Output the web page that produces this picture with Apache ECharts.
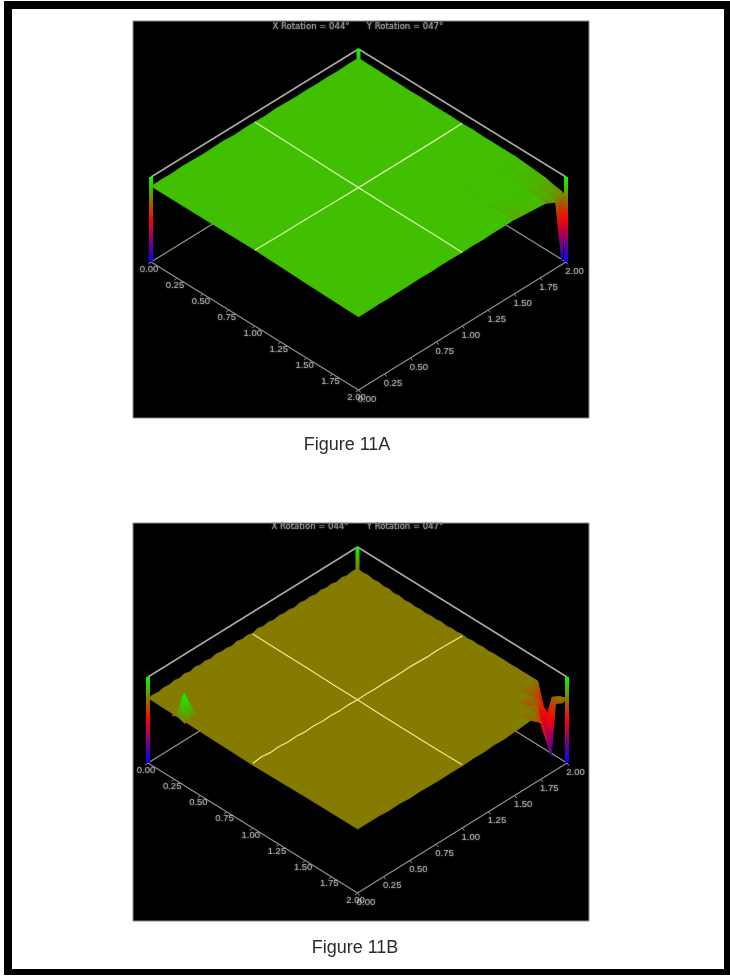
<!DOCTYPE html>
<html>
<head>
<meta charset="utf-8">
<title>Figure 11</title>
<style>
  html, body { margin: 0; background: #fff; }
  #frame { position: absolute; left: 4px; top: 1px; width: 712px; height: 960px; border-style: solid; border-color: #000; border-width: 8px 6px 6px 8px; }
  #chart { position: absolute; left: 0; top: 0; width: 730px; height: 977px; }
</style>
</head>
<body>
<div id="frame"></div>
<div id="chart"></div>
<script src="https://cdn.jsdelivr.net/npm/echarts@6/dist/echarts.min.js"></script>
<script>
// axis ticks
const tickValues = [0, 0.25, 0.5, 0.75, 1, 1.25, 1.5, 1.75, 2]
const tickLabels = ['0.00', '0.25', '0.50', '0.75', '1.00', '1.25', '1.50', '1.75', '2.00']
const rotationLabels = ['X Rotation = 044°', 'Y Rotation = 047°']

// colour ramp of the height
const rampStops = [0, 0.25, 0.5, 0.75, 1]
const rampColors = [[0, 0, 255], [128, 0, 128], [255, 0, 0], [128, 128, 0], [0, 255, 0]]

// posts at the corners [u, v]
const postCorners = [[0, 2], [0, 0], [2, 2]]

// Figure 11A, heights read along the surface edges
const levelA = 0.875
const backLeftA = [.89, .895, .89, .9, .895, .89, .895, .9, .89, .895, .895, .89, .9, .895, .89, .895, .89, .895, .89, .895, .895]
const backRightA = [.895, .89, .89, .885, .885, .88, .885, .88, .88, .88, .875, .88, .875, .875, .875, .875]
const frontRightA = [.875, .87, .87, .865, .87, .865, .87, .87, .865, .87, .865, .865, .86, .865, .86, .86]
const frontLeftA = [.86, .875, .895, .89, .89]
const crossUA = [.895, .89, .885, .88, .875, .87, .87, .87, .865]
const crossVA = [.89, .885, .885, .88, .875, .875, .875, .875, .88]
const cornerUA = [1.5, 1.8, 1.9, 1.96, 2]
const cornerVA = [1.5, 1.8, 1.9, 1.96, 2]
const cornerZA = [
  [.875, .875, .875, .875, .875],
  [.875, .875, .86, .85, .84],
  [.875, .86, .82, .8, .81],
  [.875, .84, .8, .78, .8],
  [.875, .84, .78, .04, .78]
]

// Figure 11B
const levelB = 0.74
const backLeftB = [.755, .76, .75, .765, .755, .77, .76, .775, .76, .78, .765, .775, .76, .78, .765, .77, .755, .775, .76, .77,
  .755, .775, .76, .77, .755, .77, .76, .765, .75, .77, .755, .765, .75, .765, .75, .76, .745, .76, .745, .755, .75]
const backRightB = [.75, .74, .75, .735, .745, .73, .74, .725, .735, .72, .73, .72, .73, .72, .73, .725, .735, .725, .735, .73,
  .74, .73, .74, .735, .745, .735, .745, .74, .745, .74, .74]
const frontRightB = [.74, .73, .735, .725, .73, .72, .725, .72, .725, .73, .725, .735, .73, .74, .74, .74]
const frontLeftB = [.745, .74, .73, .74, .755]
const crossUB = [.745, .74, .74, .735, .735, .73, .73, .73, .735]
const crossVB = [.75, .765, .75, .758, .745, .752, .74, .748, .738, .745, .735, .742, .735, .74, .735, .738, .735, .735, .74, .735, .73, .735, .73, .725, .72]
const cornerUB = [1.5, 1.65, 1.72, 1.8, 1.86, 1.93, 2]
const cornerVB = [1.5, 1.65, 1.75, 1.85, 1.92, 1.96, 2]
const cornerZB = [
  [.74, .74, .74, .74, .74, .74, .74],
  [.74, .74, .74, .74, .74, .74, .74],
  [.74, .74, .74, .74, .74, .74, .74],
  [.74, .74, .74, .74, .64, .56, .37],
  [.74, .74, .74, .66, .3, .48, .66],
  [.74, .74, .74, .46, .12, .67, .72],
  [.74, .76, .66, .2, null, .73, .75]
]
const bumpUB = [.24, .295, .32, .36]
const bumpVB = [-.01, .05, .11]
const bumpZB = [
  [.74, .76, .74],
  [.78, .99, .78],
  [.76, .95, .76],
  [.74, .76, .74]
]

const panels = [
  {
    rect: { left: 133, top: 21, width: 456, height: 397 },
    origin: [151, 262], unit: [103.75, 64], zUnit: 85 / 64,
    level: levelA, backLeft: backLeftA, backRight: backRightA, frontRight: frontRightA, frontLeft: frontLeftA,
    crossU: crossUA, crossV: crossVA, crossColor: '#dcefb4',
    meshes: [{ u: cornerUA, v: cornerVA, z: cornerZA }]
  },
  {
    rect: { left: 133, top: 523, width: 456, height: 398 },
    origin: [148, 763], unit: [104.75, 65], zUnit: 86 / 65,
    level: levelB, backLeft: backLeftB, backRight: backRightB, frontRight: frontRightB, frontLeft: frontLeftB,
    crossU: crossUB, crossV: crossVB, crossColor: '#f2e88e',
    meshes: [{ u: cornerUB, v: cornerVB, z: cornerZB }, { u: bumpUB, v: bumpVB, z: bumpZB }]
  }
]

function rampColor(z) {
  let i = 0
  while (i < rampStops.length - 2 && z > rampStops[i + 1]) i++
  const t = Math.min(1, Math.max(0, (z - rampStops[i]) / (rampStops[i + 1] - rampStops[i])))
  const a = rampColors[i], b = rampColors[i + 1]
  return 'rgb(' + a.map((c, k) => Math.round(c + (b[k] - c) * t)).join(',') + ')'
}

function heightFill(yTop, yBottom, zTop, zBottom) {
  if (Math.abs(zTop - zBottom) < 0.005) return rampColor(zTop)
  const stops = []
  for (let k = 0; k <= 6; k++) {
    stops.push({ offset: k / 6, color: rampColor(zTop + (zBottom - zTop) * k / 6) })
  }
  return new echarts.graphic.LinearGradient(0, yTop, 0, yBottom, stops, true)
}

function buildSeries(p, idx) {
  const project = (u, v, z) => [u + v, u - v - z * p.zUnit]
  const axisRef = { xAxisIndex: idx, yAxisIndex: idx }

  const lineSeries = (points, color, width, z) => ({
    type: 'line', ...axisRef, z: z, silent: true, showSymbol: false, animation: false,
    lineStyle: { color: color, width: width },
    data: points.map(q => project(q[0], q[1], q[2]))
  })

  const step = (n, i, span) => span * i / (n - 1)

  // surface outline without the right corner, the corner is its own mesh
  const outline = []
  p.backLeft.forEach((z, i, a) => outline.push([0, step(a.length, i, 2), z]))
  p.backRight.forEach((z, i, a) => outline.push([step(a.length, i, 1.5), 2, z]))
  outline.push([1.5, 1.5, p.level])
  p.frontRight.forEach((z, i, a) => outline.push([2, 1.5 - step(a.length, i, 1.5), z]))
  p.frontLeft.forEach((z, i, a) => outline.push([2 - step(a.length, i, 2), 0, z]))

  const surface = {
    type: 'custom', ...axisRef, z: 4, silent: true, animation: false,
    data: [[0, 0]],
    renderItem: (params, api) => ({
      type: 'polygon',
      shape: { points: outline.map(q => api.coord(project(q[0], q[1], q[2]))) },
      style: { fill: rampColor(p.level), stroke: rampColor(p.level), lineWidth: 0.5 }
    })
  }

  // corner cells, painted from back to front; a null height leaves a hole
  const cells = []
  p.meshes.forEach(m => {
    for (let i = 0; i < m.u.length - 1; i++) {
      for (let j = 0; j < m.v.length - 1; j++) {
        const cell = [
          [m.u[i], m.v[j], m.z[i][j]],
          [m.u[i], m.v[j + 1], m.z[i][j + 1]],
          [m.u[i + 1], m.v[j + 1], m.z[i + 1][j + 1]],
          [m.u[i + 1], m.v[j], m.z[i + 1][j]]
        ]
        if (cell.every(q => q[2] !== null)) cells.push(cell)
      }
    }
  })
  cells.sort((a, b) => (a[0][0] + a[2][0] - a[0][1] - a[2][1]) - (b[0][0] + b[2][0] - b[0][1] - b[2][1]))

  const mesh = {
    type: 'custom', ...axisRef, z: 5, silent: true, animation: false,
    data: cells.map(() => [0, 0]),
    renderItem: (params, api) => {
      const cell = cells[params.dataIndex]
      const pts = cell.map(q => api.coord(project(q[0], q[1], q[2])))
      const ys = pts.map(q => q[1])
      const zs = cell.map(q => q[2])
      const fill = heightFill(Math.min(...ys), Math.max(...ys), Math.max(...zs), Math.min(...zs))
      return {
        type: 'polygon',
        shape: { points: pts },
        style: { fill: fill, stroke: fill, lineWidth: 1 }
      }
    }
  }

  const posts = {
    type: 'custom', ...axisRef, z: 3, silent: true, animation: false,
    data: postCorners,
    renderItem: (params, api) => {
      const c = postCorners[params.dataIndex]
      const a = api.coord(project(c[0], c[1], 1))
      const b = api.coord(project(c[0], c[1], 0))
      return {
        type: 'line',
        shape: { x1: a[0], y1: a[1], x2: b[0], y2: b[1] },
        style: { stroke: heightFill(a[1], b[1], 1, 0), lineWidth: 4 }
      }
    }
  }

  const tickMark = (axisPt, dx, dy) => ({
    type: 'custom', ...axisRef, z: 2, silent: true, animation: false,
    data: tickValues.map(t => [t]),
    renderItem: (params, api) => {
      const q = axisPt(tickValues[params.dataIndex])
      const a = api.coord(project(q[0], q[1], 0))
      return {
        type: 'line',
        shape: { x1: a[0], y1: a[1], x2: a[0] + dx, y2: a[1] + dy },
        style: { stroke: '#9a9a9a', lineWidth: 1 }
      }
    }
  })

  const tickText = (axisPt, offset) => ({
    type: 'scatter', ...axisRef, z: 6, silent: true, animation: false, symbolSize: 0,
    data: tickValues.map((t, i) => {
      const q = axisPt(t)
      return { value: project(q[0], q[1], 0), name: tickLabels[i] }
    }),
    label: {
      show: true, position: 'inside', offset: offset, formatter: '{b}',
      fontFamily: 'Liberation Sans', fontSize: 9.5, color: '#c4c4c4',
      textShadowColor: 'rgba(200,200,200,0.7)', textShadowBlur: 2
    }
  })

  const uAxisPt = t => [t, 0]
  const vAxisPt = t => [2, t]

  return [
    lineSeries([[0, 0, 1], [0, 2, 1], [2, 2, 1]], '#aca6a2', 1.6, 2),
    lineSeries([[0, 0, 0], [0, 2, 0], [2, 2, 0]], '#8f8f8f', 1.4, 2),
    lineSeries([[0, 0, 0], [2, 0, 0], [2, 2, 0]], '#8a8a8a', 1.4, 2),
    tickMark(uAxisPt, -2.5, 2),
    tickMark(vAxisPt, 2, 2.5),
    tickText(uAxisPt, [-2, 7]),
    tickText(vAxisPt, [8.5, 9]),
    posts,
    surface,
    mesh,
    lineSeries(p.crossU.map((z, i, a) => [step(a.length, i, 2), 1, z]), p.crossColor, 1.2, 6),
    lineSeries(p.crossV.map((z, i, a) => [1, step(a.length, i, 2), z]), p.crossColor, 1.2, 6)
  ]
}

const headerText = (text, x, y) => ({
  text: text, left: x, top: y, textAlign: 'center', textVerticalAlign: 'middle', padding: 0,
  textStyle: {
    fontFamily: 'DejaVu Sans', fontSize: 8.5, fontWeight: 'normal', color: '#9a9a9a',
    textShadowColor: 'rgba(170,170,170,0.8)', textShadowBlur: 2
  }
})
const captionText = (text, x, y) => ({
  text: text, left: x, top: y, textAlign: 'center', textVerticalAlign: 'middle', padding: 0,
  textStyle: { fontFamily: 'Liberation Sans', fontSize: 18, fontWeight: 'normal', color: '#2c2c2c' }
})

const option = {
  animation: false,
  title: [
    headerText(rotationLabels[0], 311, 27), headerText(rotationLabels[1], 405, 27),
    headerText(rotationLabels[0], 310, 527), headerText(rotationLabels[1], 405, 527),
    captionText('Figure 11A', 347, 445), captionText('Figure 11B', 355, 948)
  ],
  grid: panels.map(p => ({ ...p.rect, show: true, backgroundColor: '#000', borderColor: '#8c8c8c', borderWidth: 1 })),
  xAxis: panels.map((p, i) => ({
    type: 'value', gridIndex: i, show: false,
    min: (p.rect.left - p.origin[0]) / p.unit[0],
    max: (p.rect.left + p.rect.width - p.origin[0]) / p.unit[0]
  })),
  yAxis: panels.map((p, i) => ({
    type: 'value', gridIndex: i, show: false, inverse: true,
    min: (p.rect.top - p.origin[1]) / p.unit[1],
    max: (p.rect.top + p.rect.height - p.origin[1]) / p.unit[1]
  })),
  series: panels.flatMap(buildSeries)
}

const chart = echarts.init(document.getElementById('chart'), null, { renderer: 'canvas' })
chart.setOption(option)
window.addEventListener('resize', () => chart.resize())
</script>
</body>
</html>
